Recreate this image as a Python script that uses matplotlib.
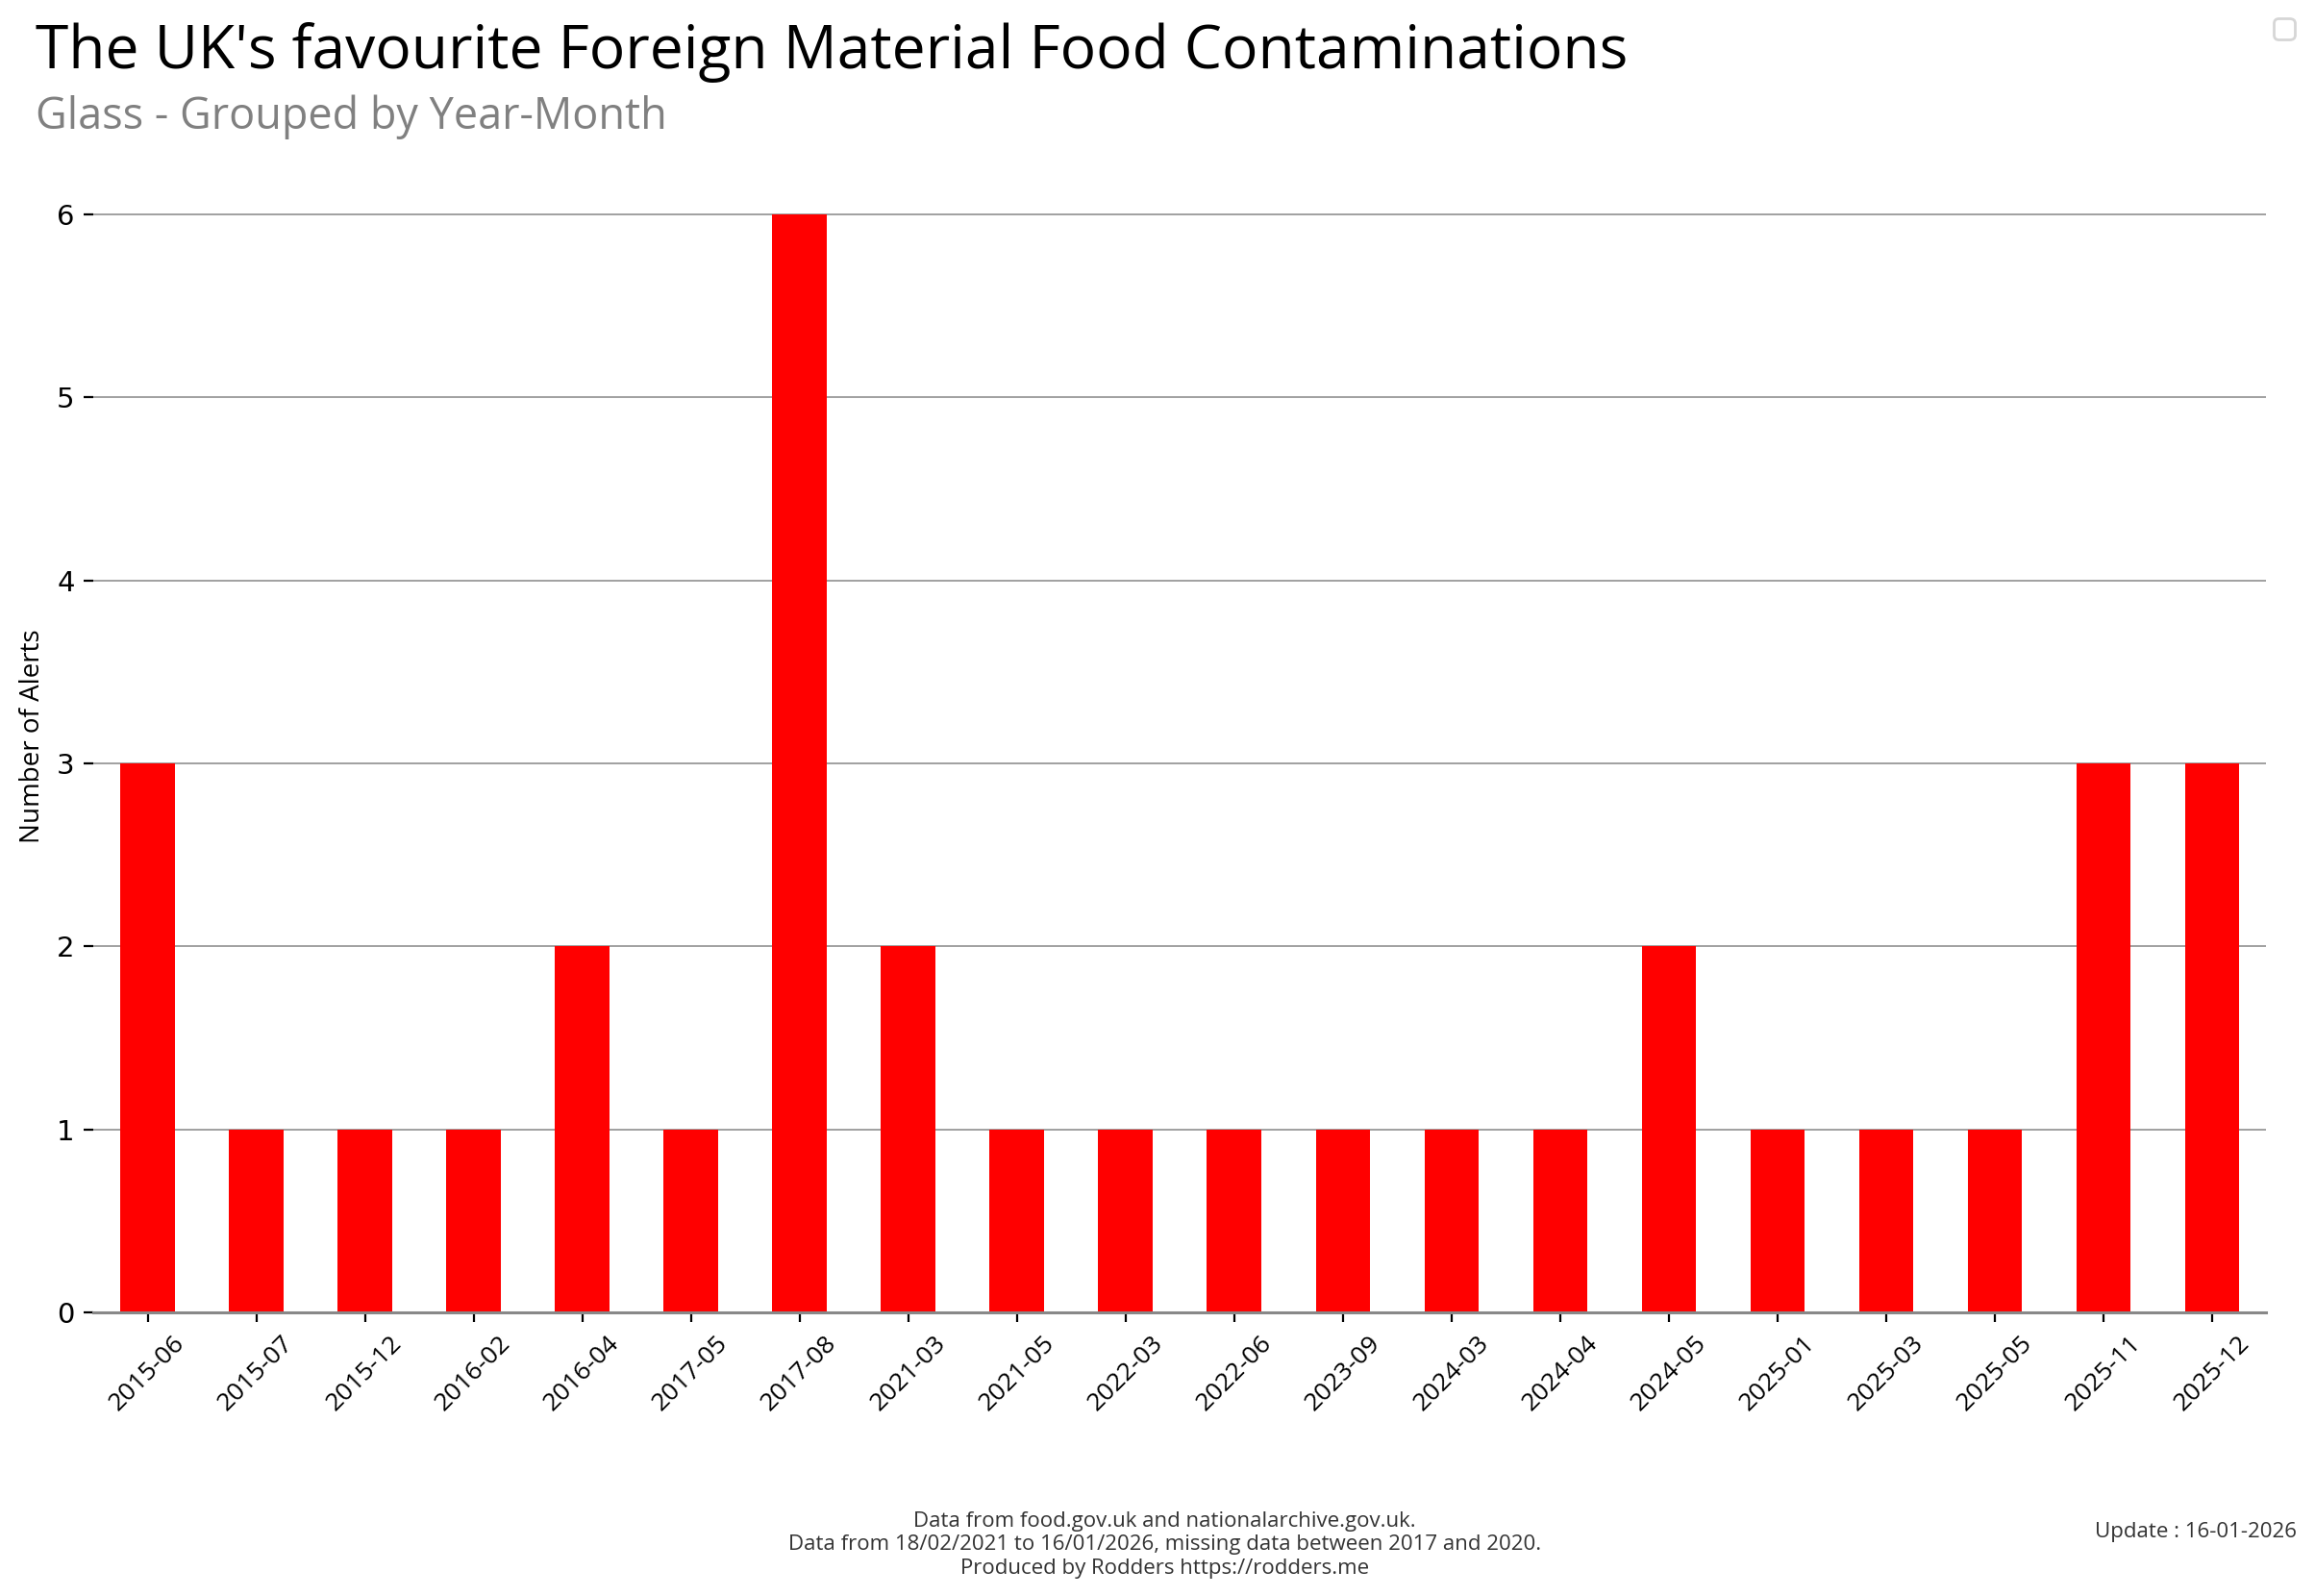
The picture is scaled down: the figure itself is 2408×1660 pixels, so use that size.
import matplotlib
matplotlib.use("Agg")
import matplotlib.pyplot as plt

# Data
months = ["2015-06", "2015-07", "2015-12", "2016-02", "2016-04", "2017-05",
          "2017-08", "2021-03", "2021-05", "2022-03", "2022-06", "2023-09",
          "2024-03", "2024-04", "2024-05", "2025-01", "2025-03", "2025-05",
          "2025-11", "2025-12"]
alerts = [3, 1, 1, 1, 2, 1, 6, 2, 1, 1, 1, 1, 1, 1, 2, 1, 1, 1, 3, 3]

title = "The UK's favourite Foreign Material Food Contaminations"
subtitle = "Glass - Grouped by Year-Month"
footer = ("Data from food.gov.uk and nationalarchive.gov.uk.\n"
          "Data from 18/02/2021 to 16/01/2026, missing data between 2017 and 2020.\n"
          "Produced by Rodders https://rodders.me")
update = "Update : 16-01-2026"

plt.rcParams['font.family'] = ['Open Sans', 'DejaVu Sans']

fig = plt.figure(figsize=(12.04, 8.3), dpi=200)
ax = fig.add_axes([0.0403, 0.1777, 0.9387, 0.7223])

x = list(range(len(months)))
ax.bar(x, alerts, width=0.5, color="#ff0000", zorder=3)
ax.set_xlim(-0.5, len(months) - 0.5)
ax.set_ylim(0, 6.3)
ax.set_yticks(range(0, 7))
ax.set_xticks(x)
ax.set_xticklabels(months, rotation=45, fontsize=9.5)
for lab in ax.get_yticklabels():
    lab.set_fontfamily('DejaVu Sans')
    lab.set_fontsize(10.5)

# horizontal grid
ax.yaxis.grid(True, color="#a0a0a0", linewidth=0.7, zorder=0)
ax.set_axisbelow(True)
for s in ["top", "right", "left"]:
    ax.spines[s].set_visible(False)
ax.spines["bottom"].set_color("#888888")
ax.spines["bottom"].set_linewidth(1.1)
ax.spines["bottom"].set_zorder(4)

ax.set_ylabel("Number of Alerts", fontsize=10)

fig.text(0.0154, 0.957, title, fontsize=22.4, va="baseline", ha="left")
fig.text(0.0154, 0.919, subtitle, fontsize=16.2, va="baseline", ha="left", color="#808080")
fig.text(0.5032, 0.032, footer, fontsize=8, ha="center", va="center",
         multialignment="center", color="#333333")
fig.text(0.992, 0.040, update, fontsize=8, ha="right", va="center", color="#333333")

# empty legend box at the top right, as in the original
fig.legend(handles=[], labels=[], loc="upper right", bbox_to_anchor=(0.997, 0.997))

fig.savefig("out.png", dpi=200)
